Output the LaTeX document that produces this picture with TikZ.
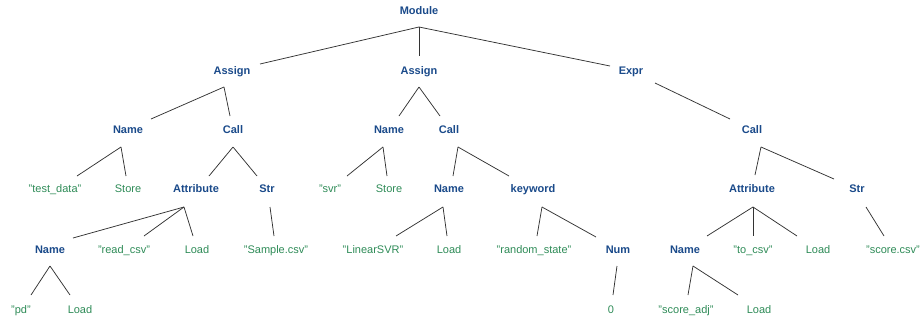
\documentclass[tikz,border=0pt]{standalone}
\usepackage{fontspec}
\setmainfont{Liberation Sans}
\definecolor{ntblue}{HTML}{1A4A8A}
\definecolor{lfgreen}{HTML}{2E8B57}
\definecolor{edgegray}{HTML}{333333}
\tikzset{
  inner/.style={anchor=base, inner sep=0pt, font=\fontsize{11}{13}\selectfont\bfseries, text=ntblue},
  leaf/.style={anchor=base, inner sep=0pt, font=\fontsize{11}{13}\selectfont, text=lfgreen},
  conn/.style={draw=edgegray, line width=0.75pt}
}
\newcommand{\edgeto}[6]{\draw[conn] ([shift={(#2,#3)}]#1.base) -- ([shift={(#5,#6)}]#4.base);}
\begin{document}
\begin{tikzpicture}[x=1pt,y=1pt]
\path[use as bounding box] (0,0) rectangle (922,-322);
% level 0
\node[inner] (module) at (419,-14) {Module};
% level 1
\node[inner] (assignL) at (232,-74) {Assign};
\node[inner] (assignM) at (419,-74) {Assign};
\node[inner] (expr) at (631,-74) {Expr};
% level 2
\node[inner] (nameA) at (128,-133) {Name};
\node[inner] (callA) at (233,-133) {Call};
\node[inner] (nameB) at (389,-133) {Name};
\node[inner] (callB) at (449,-133) {Call};
\node[inner] (callC) at (752,-133) {Call};
% level 3
\node[leaf] (td) at (55,-192) {"test\_data"};
\node[leaf] (storeA) at (128,-192) {Store};
\node[inner] (attrA) at (196,-192) {Attribute};
\node[inner] (strA) at (267,-192) {Str};
\node[leaf] (svr) at (330,-192) {"svr"};
\node[leaf] (storeB) at (389,-192) {Store};
\node[inner] (nameC) at (449,-192) {Name};
\node[inner] (kw) at (533,-192) {keyword};
\node[inner] (attrC) at (752,-192) {Attribute};
\node[inner] (strC) at (857,-192) {Str};
% level 4
\node[inner] (nameD) at (50,-253) {Name};
\node[leaf] (readcsv) at (124,-253) {"read\_csv"};
\node[leaf] (loadA) at (197,-253) {Load};
\node[leaf] (samplecsv) at (276,-253) {"Sample.csv"};
\node[leaf] (linsvr) at (373,-253) {"LinearSVR"};
\node[leaf] (loadB) at (449,-253) {Load};
\node[leaf] (rs) at (534,-253) {"random\_state"};
\node[inner] (num) at (618,-253) {Num};
\node[inner] (nameE) at (685,-253) {Name};
\node[leaf] (tocsv) at (753,-253) {"to\_csv"};
\node[leaf] (loadC) at (818,-253) {Load};
\node[leaf] (scorecsv) at (893,-253) {"score.csv"};
% level 5
\node[leaf] (pd) at (21,-313) {"pd"};
\node[leaf] (loadD) at (80,-313) {Load};
\node[leaf] (zero) at (611,-313) {0};
\node[leaf] (scoreadj) at (686,-313) {"score\_adj"};
\node[leaf] (loadE) at (759,-313) {Load};
% edges
\edgeto{module}{0}{-13}{assignL}{28}{10}
\edgeto{module}{0}{-13}{assignM}{0}{18}
\edgeto{module}{0}{-13}{expr}{-21}{8}
\edgeto{assignL}{-8}{-13}{nameA}{23}{14}
\edgeto{assignL}{-8}{-13}{callA}{-3}{17}
\edgeto{assignM}{0}{-13}{nameB}{10}{17}
\edgeto{assignM}{0}{-13}{callB}{-9}{17}
\edgeto{expr}{24}{-9}{callC}{-22}{14}
\edgeto{nameA}{-7}{-14}{td}{22}{16}
\edgeto{nameA}{-7}{-14}{storeA}{-2}{16}
\edgeto{callA}{0}{-14}{attrA}{13}{16}
\edgeto{callA}{0}{-14}{strA}{-10}{16}
\edgeto{nameB}{-6}{-14}{svr}{17}{16}
\edgeto{nameB}{-6}{-14}{storeB}{-2}{16}
\edgeto{callB}{9}{-14}{nameC}{4}{16}
\edgeto{callB}{9}{-14}{kw}{-24}{16}
\edgeto{callC}{9}{-14}{attrC}{3}{17}
\edgeto{callC}{9}{-14}{strC}{-23}{13}
\edgeto{attrA}{-12}{-15}{nameD}{23}{15}
\edgeto{attrA}{-12}{-15}{readcsv}{20}{17}
\edgeto{attrA}{-12}{-15}{loadA}{-4}{17}
\edgeto{strA}{3}{-15}{samplecsv}{-2}{17}
\edgeto{nameC}{-6}{-15}{linsvr}{23}{17}
\edgeto{nameC}{-6}{-15}{loadB}{-2}{17}
\edgeto{kw}{9}{-15}{rs}{3}{17}
\edgeto{kw}{9}{-15}{num}{-22}{16}
\edgeto{attrC}{1}{-15}{nameE}{22}{17}
\edgeto{attrC}{1}{-15}{tocsv}{0}{17}
\edgeto{attrC}{1}{-15}{loadC}{-21}{17}
\edgeto{strC}{9}{-15}{scorecsv}{-9}{17}
\edgeto{nameD}{0}{-13}{pd}{10}{18}
\edgeto{nameD}{0}{-13}{loadD}{-10}{18}
\edgeto{num}{-1}{-13}{zero}{2}{18}
\edgeto{nameE}{8}{-13}{scoreadj}{2}{18}
\edgeto{nameE}{8}{-13}{loadE}{-21}{18}
\end{tikzpicture}
\end{document}
